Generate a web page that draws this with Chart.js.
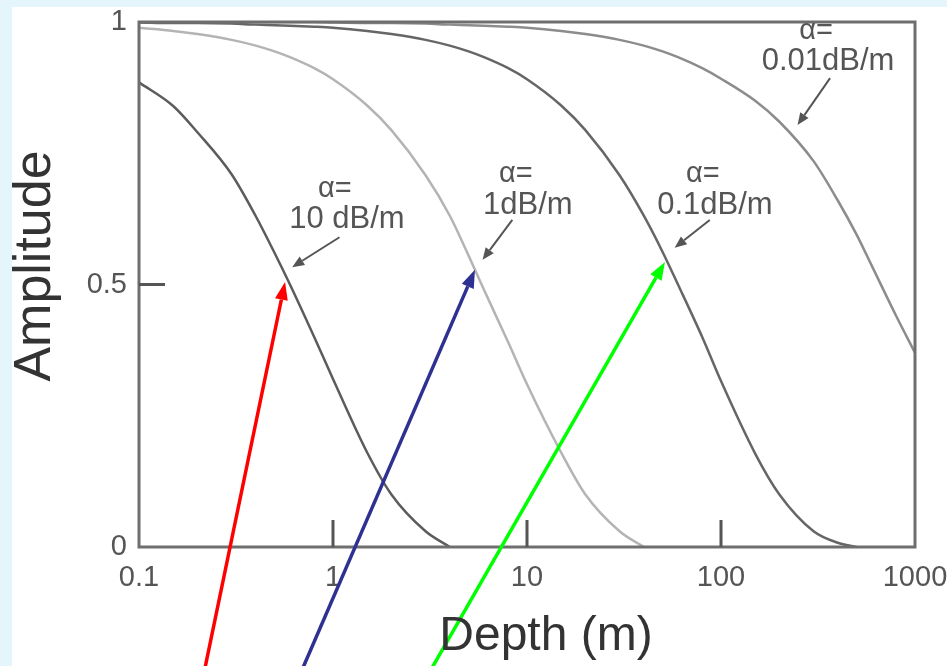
<!DOCTYPE html>
<html>
<head>
<meta charset="utf-8">
<script src="https://cdn.jsdelivr.net/npm/chart.js@4.4.1/dist/chart.umd.min.js"></script>
<style>
  body { margin: 0; background: #e4f6fc; }
  #wrap { position: absolute; left: 12px; top: 7px; width: 935px; height: 659px; background: #fff; }
</style>
</head>
<body>
<div id="wrap"><canvas id="myChart" width="935" height="659"></canvas></div>
<script>
// depth (m) and amplitude, one list per attenuation
const depth  = [0.1, 0.15, 0.2, 0.3, 0.4, 0.5, 0.6, 0.8, 1, 1.5, 2, 3, 4, 5, 6, 8, 10, 15, 20, 30, 40, 50, 60, 80, 100, 150, 200, 300, 400, 500, 600, 800, 1000];
const amp10  = [0.885, 0.84, 0.79, 0.71, 0.63, 0.56, 0.50, 0.40, 0.32, 0.18, 0.10, 0.03, 0.0, null, null, null, null, null, null, null, null, null, null, null, null, null, null, null, null, null, null, null, null];
const amp1   = [0.989, 0.983, 0.977, 0.966, 0.955, 0.944, 0.933, 0.912, 0.891, 0.841, 0.794, 0.708, 0.631, 0.555, 0.49, 0.39, 0.31, 0.18, 0.10, 0.03, 0.0, null, null, null, null, null, null, null, null, null, null, null, null];
const amp01  = [0.999, 0.998, 0.998, 0.997, 0.995, 0.994, 0.993, 0.991, 0.989, 0.983, 0.977, 0.966, 0.955, 0.944, 0.933, 0.912, 0.891, 0.841, 0.794, 0.708, 0.631, 0.562, 0.50, 0.40, 0.316, 0.178, 0.10, 0.03, 0.008, 0.0, null, null, null];
const amp001 = [1.0, 1.0, 1.0, 1.0, 1.0, 1.0, 1.0, 1.0, 0.999, 0.998, 0.998, 0.997, 0.995, 0.994, 0.993, 0.991, 0.989, 0.983, 0.977, 0.966, 0.955, 0.944, 0.933, 0.912, 0.892, 0.85, 0.81, 0.735, 0.66, 0.595, 0.535, 0.44, 0.37];

const xTicks = [0.1, 1, 10, 100, 1000];
const xLabels = ['0.1', '1', '10', '100', '1000'];
const yTicks = [0, 0.5, 1];
const yLabels = ['0', '0.5', '1'];

// labels next to the curves: text, anchor of 2nd line, small arrow (depth, amplitude)
const noteText = [['α=', '10 dB/m'], ['α=', '1dB/m'], ['α=', '0.1dB/m'], ['α=', '0.01dB/m']];
const noteAt   = [[1.18, 0.623], [10.1, 0.651], [93, 0.651], [356, 0.924]];
const noteFrom = [[1.08, 0.59], [8.4, 0.623], [87.5, 0.623], [365, 0.893]];
const noteTo   = [[0.616, 0.533], [5.9, 0.547], [57.7, 0.570], [248, 0.804]];

// coloured arrows pointing at the half-amplitude points
const markColors = ['#ff0000', '#2e3192', '#00ff00'];
const markFrom = [[0.219, -0.23], [0.70, -0.23], [3.24, -0.23]];
const markTo   = [[0.566, 0.505], [5.39, 0.528], [51.4, 0.543]];

const FONT = '"Liberation Sans", Arial, sans-serif';

const toPts = (arr) => depth.map((d, i) => ({ x: d, y: arr[i] }));

function arrow(ctx, x1, y1, x2, y2, lw, color, headLen, headW) {
    const ang = Math.atan2(y2 - y1, x2 - x1);
    const bx = x2 - Math.cos(ang) * headLen;
    const by = y2 - Math.sin(ang) * headLen;
    ctx.strokeStyle = color;
    ctx.lineWidth = lw;
    ctx.beginPath();
    ctx.moveTo(x1, y1);
    ctx.lineTo(bx, by);
    ctx.stroke();
    ctx.fillStyle = color;
    ctx.beginPath();
    ctx.moveTo(x2, y2);
    ctx.lineTo(bx + Math.sin(ang) * headW / 2, by - Math.cos(ang) * headW / 2);
    ctx.lineTo(bx - Math.sin(ang) * headW / 2, by + Math.cos(ang) * headW / 2);
    ctx.closePath();
    ctx.fill();
}

const extras = {
    id: 'extras',
    afterDraw(chart) {
        const ctx = chart.ctx;
        const xs = chart.scales.x, ys = chart.scales.y;
        const a = chart.chartArea;
        ctx.save();

        // frame
        ctx.strokeStyle = '#6e6e6e';
        ctx.lineWidth = 3;
        ctx.strokeRect(a.left, a.top, a.right - a.left, a.bottom - a.top);

        // inward tick marks
        ctx.strokeStyle = '#555';
        ctx.lineWidth = 3;
        xTicks.slice(1, -1).forEach(v => {
            const px = xs.getPixelForValue(v);
            ctx.beginPath();
            ctx.moveTo(px, a.bottom);
            ctx.lineTo(px, a.bottom - 27);
            ctx.stroke();
        });
        const py = ys.getPixelForValue(0.5);
        ctx.beginPath();
        ctx.moveTo(a.left, py);
        ctx.lineTo(a.left + 26, py);
        ctx.stroke();

        // curve labels
        ctx.textAlign = 'center';
        ctx.textBaseline = 'middle';
        ctx.fillStyle = '#555';
        noteText.forEach((t, i) => {
            const x = xs.getPixelForValue(noteAt[i][0]);
            const y = ys.getPixelForValue(noteAt[i][1]);
            ctx.font = '29px ' + FONT;
            ctx.fillText(t[0], x - 12, y - 31);
            ctx.font = '31px ' + FONT;
            ctx.fillText(t[1], x, y);
            arrow(ctx,
                xs.getPixelForValue(noteFrom[i][0]), ys.getPixelForValue(noteFrom[i][1]),
                xs.getPixelForValue(noteTo[i][0]), ys.getPixelForValue(noteTo[i][1]),
                2, '#555', 12, 10);
        });

        // coloured arrows
        markColors.forEach((c, i) => {
            arrow(ctx,
                xs.getPixelForValue(markFrom[i][0]), ys.getPixelForValue(markFrom[i][1]),
                xs.getPixelForValue(markTo[i][0]), ys.getPixelForValue(markTo[i][1]),
                3.5, c, 18, 13);
        });

        // axis titles
        ctx.fillStyle = '#333';
        ctx.font = '48px ' + FONT;
        ctx.fillText('Depth (m)', 534, 630);
        ctx.translate(24, 259);
        ctx.rotate(-Math.PI / 2);
        ctx.font = '52px ' + FONT;
        ctx.fillText('Amplitude', 0, 0);
        ctx.restore();
    }
};

const line = (arr, color) => ({
    data: toPts(arr),
    borderColor: color,
    borderWidth: 2.5,
    pointRadius: 0,
    fill: false,
    spanGaps: false,
    cubicInterpolationMode: 'monotone'
});

new Chart(document.getElementById('myChart'), {
    type: 'line',
    data: {
        datasets: [
            line(amp10, '#5c5c5c'),
            line(amp1, '#b4b4b4'),
            line(amp01, '#666666'),
            line(amp001, '#8c8c8c')
        ]
    },
    options: {
        responsive: false,
        animation: false,
        layout: { padding: { top: 15, right: 32, left: 0, bottom: 0 } },
        plugins: { legend: { display: false }, tooltip: { enabled: false } },
        scales: {
            x: {
                type: 'logarithmic',
                min: 0.1,
                max: 1000,
                grid: { display: false, drawTicks: false },
                border: { display: false },
                afterBuildTicks: (s) => { s.ticks = xTicks.map(v => ({ value: v })); },
                afterFit: (s) => { s.height = 119; s.paddingLeft = 0; s.paddingRight = 0; },
                ticks: {
                    autoSkip: false,
                    maxRotation: 0,
                    padding: 14,
                    color: '#555',
                    font: { family: FONT, size: 29 },
                    callback: (v) => xLabels[xTicks.indexOf(v)]
                }
            },
            y: {
                type: 'linear',
                min: 0,
                max: 1,
                grid: { display: false, drawTicks: false },
                border: { display: false },
                afterBuildTicks: (s) => { s.ticks = yTicks.map(v => ({ value: v })); },
                afterFit: (s) => { s.width = 127; s.paddingTop = 0; s.paddingBottom = 0; },
                ticks: {
                    padding: 12,
                    color: '#555',
                    font: { family: FONT, size: 29 },
                    callback: (v) => yLabels[yTicks.indexOf(v)]
                }
            }
        }
    },
    plugins: [extras]
});
</script>
</body>
</html>
